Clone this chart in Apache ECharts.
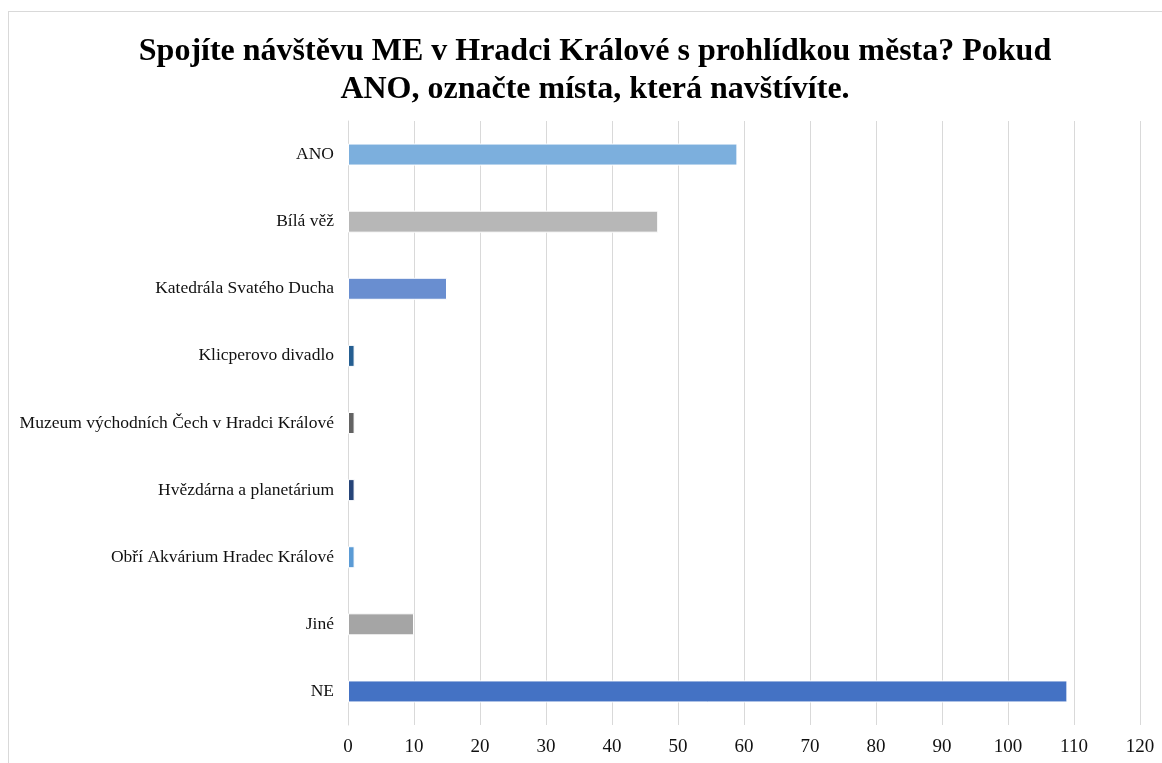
<!DOCTYPE html>
<html>
<head>
<meta charset="utf-8">
<script src="https://cdn.jsdelivr.net/npm/echarts@6/dist/echarts.min.js"></script>
<style>
  html, body { margin: 0; padding: 0; background: #fff; }
  #frame { position: absolute; left: 8px; top: 11px; width: 1200px; height: 800px; border: 1px solid #d9d9d9; }
  #main { position: absolute; left: 0; top: 0; width: 1162px; height: 763px; }
</style>
</head>
<body>
<div id="frame"></div>
<div id="main"></div>
<script>
const categories = [
  'ANO',
  'Bílá věž',
  'Katedrála Svatého Ducha',
  'Klicperovo divadlo',
  'Muzeum východních Čech v Hradci Králové',
  'Hvězdárna a planetárium',
  'Obří Akvárium Hradec Králové',
  'Jiné',
  'NE'
]
const values = [59, 47, 15, 1, 1, 1, 1, 10, 109]
const barColors = ['#7CAFDD', '#B7B7B7', '#698ED0', '#255E91', '#636363', '#264478', '#5B9BD5', '#A5A5A5', '#4472C4']

const font = '"Liberation Serif", "Times New Roman", serif'

const chart = echarts.init(document.getElementById('main'))
chart.setOption({
  animation: false,
  title: {
    text: 'Spojíte návštěvu ME v Hradci Králové s prohlídkou města? Pokud\nANO, označte místa, která navštívíte.',
    left: 590,
    top: 28,
    textAlign: 'center',
    textStyle: {
      fontFamily: font,
      fontSize: 32,
      fontWeight: 'bold',
      color: '#000',
      lineHeight: 38
    }
  },
  grid: {
    left: 348,
    right: 22,
    top: 121,
    bottom: 38
  },
  xAxis: {
    type: 'value',
    min: 0,
    max: 120,
    interval: 10,
    axisLine: { show: false },
    axisTick: { show: false },
    splitLine: { lineStyle: { color: '#d9d9d9', width: 1 } },
    axisLabel: { fontFamily: font, fontSize: 19, color: '#111', margin: 13 }
  },
  yAxis: {
    type: 'category',
    inverse: true,
    data: categories,
    axisLine: { lineStyle: { color: '#d9d9d9' } },
    axisTick: { length: 5, lineStyle: { color: '#d9d9d9' } },
    axisLabel: { fontFamily: font, fontSize: 17.5, color: '#111', margin: 14 }
  },
  series: [{
    type: 'bar',
    barWidth: 22,
    data: values.map((v, i) => ({
      value: v,
      itemStyle: { color: barColors[i], borderColor: '#fff', borderWidth: 1 }
    }))
  }]
})
</script>
</body>
</html>
